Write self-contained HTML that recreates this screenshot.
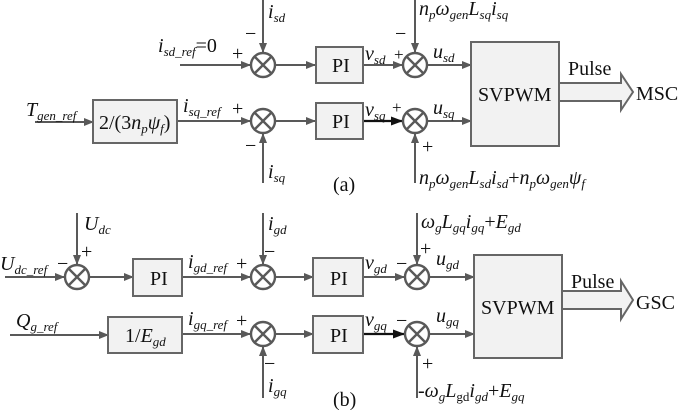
<!DOCTYPE html>
<html><head><meta charset="utf-8"><style>
body{margin:0;background:#fff}
svg{display:block}
text{font-family:"Liberation Serif",serif;fill:#111}
.i{font-style:italic}
</style></head><body>
<svg width="685" height="410" viewBox="0 0 685 410" xmlns="http://www.w3.org/2000/svg">
<defs>
<marker id="a" markerWidth="10" markerHeight="8" refX="9" refY="4" orient="auto" markerUnits="userSpaceOnUse"><path d="M0,0L10,4L0,8z" fill="#595959"/></marker>
<marker id="k" markerWidth="12" markerHeight="9" refX="11" refY="4.5" orient="auto" markerUnits="userSpaceOnUse"><path d="M0,0L12,4.5L0,9z" fill="#111"/></marker>
</defs>
<g stroke="#595959" stroke-width="2" fill="none">
<line x1="180" y1="65" x2="250" y2="65" marker-end="url(#a)"/>
<line x1="263" y1="0" x2="263" y2="52" marker-end="url(#a)"/>
<line x1="275" y1="65" x2="315" y2="65" marker-end="url(#a)"/>
<line x1="363" y1="65" x2="402" y2="65" marker-end="url(#a)"/>
<line x1="415" y1="0" x2="415" y2="52" marker-end="url(#a)"/>
<line x1="428" y1="65" x2="471" y2="65" marker-end="url(#a)"/>
<line x1="35" y1="122" x2="93" y2="122" marker-end="url(#a)"/>
<line x1="177" y1="121" x2="250" y2="121" marker-end="url(#a)"/>
<line x1="263" y1="183" x2="263" y2="134" marker-end="url(#a)"/>
<line x1="275" y1="121" x2="315" y2="121" marker-end="url(#a)"/>
<line x1="415" y1="183" x2="415" y2="134" marker-end="url(#a)"/>
<line x1="428" y1="121" x2="471" y2="121" marker-end="url(#a)"/>
<line x1="5" y1="277" x2="64" y2="277" marker-end="url(#a)"/>
<line x1="77" y1="213" x2="77" y2="264" marker-end="url(#a)"/>
<line x1="89" y1="277" x2="133" y2="277" marker-end="url(#a)"/>
<line x1="182" y1="277" x2="250" y2="277" marker-end="url(#a)"/>
<line x1="263" y1="213" x2="263" y2="264" marker-end="url(#a)"/>
<line x1="275" y1="277" x2="313" y2="277" marker-end="url(#a)"/>
<line x1="363" y1="277" x2="404" y2="277" marker-end="url(#a)"/>
<line x1="417" y1="213" x2="417" y2="264" marker-end="url(#a)"/>
<line x1="430" y1="277" x2="474" y2="277" marker-end="url(#a)"/>
<line x1="10" y1="335" x2="108" y2="335" marker-end="url(#a)"/>
<line x1="182" y1="334" x2="250" y2="334" marker-end="url(#a)"/>
<line x1="263" y1="398" x2="263" y2="347" marker-end="url(#a)"/>
<line x1="275" y1="334" x2="313" y2="334" marker-end="url(#a)"/>
<line x1="417" y1="398" x2="417" y2="347" marker-end="url(#a)"/>
<line x1="430" y1="334" x2="474" y2="334" marker-end="url(#a)"/>
</g>
<g stroke="#111" stroke-width="2.2">
<line x1="363" y1="121" x2="402" y2="121" marker-end="url(#k)"/>
<line x1="363" y1="334" x2="404" y2="334" marker-end="url(#k)"/>
</g>
<g stroke="#595959" stroke-width="2.4" fill="#fff">
<g transform="translate(263,65)"><circle r="12"/><path d="M-8.5,-8.5L8.5,8.5M8.5,-8.5L-8.5,8.5"/></g>
<g transform="translate(415,65)"><circle r="12"/><path d="M-8.5,-8.5L8.5,8.5M8.5,-8.5L-8.5,8.5"/></g>
<g transform="translate(263,121)"><circle r="12"/><path d="M-8.5,-8.5L8.5,8.5M8.5,-8.5L-8.5,8.5"/></g>
<g transform="translate(415,121)"><circle r="12"/><path d="M-8.5,-8.5L8.5,8.5M8.5,-8.5L-8.5,8.5"/></g>
<g transform="translate(77,277)"><circle r="12"/><path d="M-8.5,-8.5L8.5,8.5M8.5,-8.5L-8.5,8.5"/></g>
<g transform="translate(263,277)"><circle r="12"/><path d="M-8.5,-8.5L8.5,8.5M8.5,-8.5L-8.5,8.5"/></g>
<g transform="translate(417,277)"><circle r="12"/><path d="M-8.5,-8.5L8.5,8.5M8.5,-8.5L-8.5,8.5"/></g>
<g transform="translate(263,334)"><circle r="12"/><path d="M-8.5,-8.5L8.5,8.5M8.5,-8.5L-8.5,8.5"/></g>
<g transform="translate(417,334)"><circle r="12"/><path d="M-8.5,-8.5L8.5,8.5M8.5,-8.5L-8.5,8.5"/></g>
</g>
<g stroke="#666" stroke-width="2" fill="#f2f2f2">
<rect x="316" y="47" width="47" height="36"/>
<rect x="316" y="103" width="47" height="36"/>
<rect x="93" y="100" width="84" height="43"/>
<rect x="471" y="42" width="88" height="104"/>
<rect x="133" y="259" width="49" height="37"/>
<rect x="313" y="258" width="50" height="38"/>
<rect x="108" y="317" width="74" height="36"/>
<rect x="313" y="316" width="50" height="37"/>
<rect x="474" y="255" width="88" height="103"/>
<path d="M559,83H621V74L633,92L621,110V101H559Z"/>
<path d="M562,291H621V281L633,300L621,319V309H562Z"/>
</g>
<g font-size="20">
<text x="332" y="72">PI</text><text x="332" y="128">PI</text>
<text x="150" y="285">PI</text><text x="330" y="285">PI</text><text x="330" y="342">PI</text>
<text x="99" y="129">2/(3<tspan class="i">n<tspan font-size="13" dy="4">p</tspan><tspan dy="-4">ψ</tspan><tspan font-size="13" dy="4">f</tspan></tspan><tspan dy="-4">)</tspan></text>
<text x="125" y="342">1/<tspan class="i">E<tspan font-size="13" dy="4">gd</tspan></tspan></text>
<text x="478" y="101">SVPWM</text>
<text x="481" y="314">SVPWM</text>
<text x="568" y="75">Pulse</text>
<text x="571" y="288">Pulse</text>
<text x="636" y="100">MSC</text>
<text x="636" y="309">GSC</text>
<text x="333" y="191">(a)</text>
<text x="333" y="406">(b)</text>
<text x="245" y="40">−</text><text x="232" y="60">+</text>
<text x="245" y="152">−</text><text x="232" y="115">+</text>
<text x="395" y="40">−</text><text x="394" y="60" font-size="17">+</text>
<text x="392" y="113" font-size="17">+</text><text x="422" y="153">+</text>
<text x="81" y="258">+</text><text x="57" y="270">−</text>
<text x="264" y="258">−</text><text x="236" y="270">+</text>
<text x="420" y="255">+</text><text x="396" y="270">−</text>
<text x="236" y="327">+</text><text x="264" y="370">−</text>
<text x="396" y="327">−</text><text x="422" y="370">+</text>
</g>
<g font-size="20" class="i">
<text x="268" y="18">i<tspan font-size="13" dy="4">sd</tspan></text>
<text x="158" y="52">i<tspan font-size="13" dy="4">sd_ref</tspan><tspan dy="-4" font-style="normal">=0</tspan></text>
<text x="26" y="116">T<tspan font-size="13" dy="4">gen_ref</tspan></text>
<text x="183" y="112">i<tspan font-size="13" dy="4">sq_ref</tspan></text>
<text x="268" y="178">i<tspan font-size="13" dy="4">sq</tspan></text>
<text x="365" y="60">v<tspan font-size="13" dy="4">sd</tspan></text>
<text x="365" y="116">v<tspan font-size="13" dy="4">sq</tspan></text>
<text x="433" y="58">u<tspan font-size="13" dy="4">sd</tspan></text>
<text x="433" y="114">u<tspan font-size="13" dy="4">sq</tspan></text>
<text x="419" y="15">n<tspan font-size="13" dy="4">p</tspan><tspan dy="-4">ω</tspan><tspan font-size="13" dy="4">gen</tspan><tspan dy="-4">L</tspan><tspan font-size="13" dy="4">sq</tspan><tspan dy="-4">i</tspan><tspan font-size="13" dy="4">sq</tspan></text>
<text x="419" y="184">n<tspan font-size="13" dy="4">p</tspan><tspan dy="-4">ω</tspan><tspan font-size="13" dy="4">gen</tspan><tspan dy="-4">L</tspan><tspan font-size="13" dy="4">sd</tspan><tspan dy="-4">i</tspan><tspan font-size="13" dy="4">sd</tspan><tspan dy="-4" font-style="normal">+</tspan><tspan>n</tspan><tspan font-size="13" dy="4">p</tspan><tspan dy="-4">ω</tspan><tspan font-size="13" dy="4">gen</tspan><tspan dy="-4">ψ</tspan><tspan font-size="13" dy="4">f</tspan></text>
<text x="84" y="230">U<tspan font-size="13" dy="4">dc</tspan></text>
<text x="0" y="270">U<tspan font-size="13" dy="4">dc_ref</tspan></text>
<text x="268" y="230">i<tspan font-size="13" dy="4">gd</tspan></text>
<text x="188" y="268">i<tspan font-size="13" dy="4">gd_ref</tspan></text>
<text x="16" y="327">Q<tspan font-size="13" dy="4">g_ref</tspan></text>
<text x="188" y="325">i<tspan font-size="13" dy="4">gq_ref</tspan></text>
<text x="268" y="392">i<tspan font-size="13" dy="4">gq</tspan></text>
<text x="365" y="269">v<tspan font-size="13" dy="4">gd</tspan></text>
<text x="365" y="326">v<tspan font-size="13" dy="4">gq</tspan></text>
<text x="436" y="265">u<tspan font-size="13" dy="4">gd</tspan></text>
<text x="436" y="322">u<tspan font-size="13" dy="4">gq</tspan></text>
<text x="421" y="228">ω<tspan font-size="13" dy="4">g</tspan><tspan dy="-4">L</tspan><tspan font-size="13" dy="4">gq</tspan><tspan dy="-4">i</tspan><tspan font-size="13" dy="4">gq</tspan><tspan dy="-4" font-style="normal">+</tspan><tspan>E</tspan><tspan font-size="13" dy="4">gd</tspan></text>
<text x="418" y="397"><tspan font-style="normal">-</tspan>ω<tspan font-size="13" dy="4">g</tspan><tspan dy="-4">L</tspan><tspan font-size="13" dy="4" font-style="normal">gd</tspan><tspan dy="-4">i</tspan><tspan font-size="13" dy="4">gd</tspan><tspan dy="-4" font-style="normal">+</tspan><tspan>E</tspan><tspan font-size="13" dy="4">gq</tspan></text>
</g>
</svg>
</body></html>
